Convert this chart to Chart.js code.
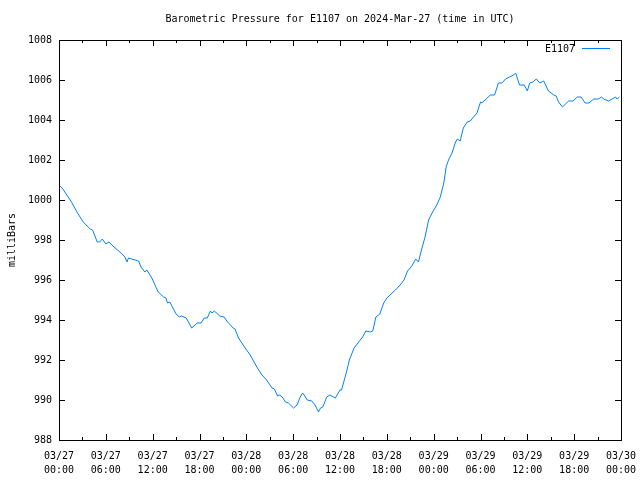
<!DOCTYPE html>
<html>
<head>
<meta charset="utf-8">
<script src="https://cdn.jsdelivr.net/npm/chart.js@4.4.0/dist/chart.umd.min.js"></script>
<style>
  html, body { margin: 0; padding: 0; background: #fff; }
  canvas { display: block; }
</style>
</head>
<body>
<canvas id="chart" width="640" height="480"></canvas>
<script>
// hours since 2024-03-27 00:00 UTC
const hours = [
    0, 0.5, 1.0, 1.6, 2.3, 3.1, 4.0, 4.3, 4.9, 5.2, 5.55, 6.0, 6.4, 7.05, 7.8, 8.45, 8.7, 8.9,
    9.75, 10.2, 10.5, 11.0, 11.25, 11.9, 12.3, 12.7, 13.4, 13.7, 13.9, 14.2, 15.0, 15.4, 15.7,
    16.3, 17.0, 17.7, 18.2, 18.6, 19.0, 19.4, 19.6, 19.9, 20.6, 21.15, 21.6, 22.3, 22.55, 23.0,
    23.85, 24.5, 25.35, 26.0, 26.6, 27.3, 27.6, 28.0, 28.3, 28.7, 29.0, 29.4, 30.05, 30.5, 30.9,
    31.2, 31.5, 31.8, 32.4, 32.8, 33.25, 33.5, 33.8, 34.3, 34.7, 35.4, 36.0, 36.2, 36.8, 37.2,
    37.8, 38.4, 38.9, 39.3, 39.9, 40.2, 40.6, 41.1, 41.6, 42.0, 43.1, 43.7, 44.2, 44.65, 45.2,
    45.7, 46.05, 46.5, 46.9, 47.35, 47.8, 48.4, 48.85, 49.3, 49.6, 49.9, 50.35, 50.8, 51.05,
    51.4, 51.8, 52.3, 52.7, 53.1, 53.55, 54.0, 54.2, 55.25, 55.8, 56.3, 56.75, 57.2, 57.7,
    58.25, 58.5, 59.0, 59.6, 60.0, 60.3, 60.7, 61.15, 61.6, 62.1, 62.7, 63.4, 63.7, 64.0,
    64.5, 64.9, 65.3, 65.85, 66.4, 66.9, 67.4, 67.9, 68.5, 69.1, 69.5, 69.8, 70.4, 70.85,
    71.3, 71.5, 71.8
];

const pressure = [
    1000.75, 1000.55, 1000.25, 999.9, 999.4, 998.9, 998.55, 998.5, 997.9, 997.9, 998.05, 997.8,
    997.9, 997.65, 997.4, 997.15, 996.9, 997.1, 997.0, 996.95, 996.65, 996.4, 996.5, 996.1,
    995.75, 995.4, 995.15, 995.1, 994.85, 994.9, 994.3, 994.15, 994.2, 994.1, 993.6, 993.85,
    993.85, 994.1, 994.1, 994.45, 994.35, 994.45, 994.2, 994.15, 993.9, 993.6, 993.55, 993.1,
    992.6, 992.25, 991.65, 991.25, 991.0, 990.6, 990.55, 990.2, 990.25, 990.1, 989.9, 989.85,
    989.6, 989.75, 990.15, 990.35, 990.2, 990.0, 989.95, 989.75, 989.4, 989.6, 989.65, 990.15,
    990.25, 990.1, 990.5, 990.5, 991.35, 992.0, 992.6, 992.9, 993.15, 993.45, 993.4, 993.45,
    994.15, 994.3, 994.85, 995.1, 995.5, 995.75, 996.0, 996.45, 996.7, 997.05, 996.9, 997.6,
    998.15, 999.0, 999.35, 999.75, 1000.15, 1000.85, 1001.65, 1002.0, 1002.35, 1002.9, 1003.05,
    1002.95, 1003.6, 1003.9, 1003.95, 1004.15, 1004.35, 1004.9, 1004.85, 1005.25, 1005.25,
    1005.85, 1005.85, 1006.05, 1006.15, 1006.25, 1006.35, 1005.75, 1005.75, 1005.45, 1005.85,
    1005.9, 1006.05, 1005.85, 1005.95, 1005.45, 1005.25, 1005.2, 1004.9, 1004.65, 1004.8,
    1004.95, 1004.95, 1005.15, 1005.15, 1004.85, 1004.85, 1005.05, 1005.05, 1005.15, 1005.05,
    1004.95, 1005.05, 1005.15, 1005.05, 1005.15
];

const xTickLabels = [
    ['03/27', '00:00'], ['03/27', '06:00'], ['03/27', '12:00'], ['03/27', '18:00'],
    ['03/28', '00:00'], ['03/28', '06:00'], ['03/28', '12:00'], ['03/28', '18:00'],
    ['03/29', '00:00'], ['03/29', '06:00'], ['03/29', '12:00'], ['03/29', '18:00'],
    ['03/30', '00:00']
];

const seriesName = 'E1107';
const chartTitle = 'Barometric Pressure for E1107 on 2024-Mar-27 (time in UTC)';
const yAxisTitle = 'milliBars';

const FONT = '"DejaVu Sans Mono", "Liberation Mono", monospace';
const LINE_COLOR = 'rgb(0,128,255)';

// gnuplot-like frame: box, inward ticks on all sides, title, y label, legend
const framePlugin = {
    id: 'frame',
    afterDraw(chart) {
        const ctx = chart.ctx;
        const area = chart.chartArea;
        const xs = chart.scales.x;
        const ys = chart.scales.y;

        ctx.save();
        ctx.strokeStyle = '#000';
        ctx.lineWidth = 1;

        // box
        ctx.strokeRect(Math.round(area.left) + 0.5, Math.round(area.top) + 0.5,
            Math.round(area.right - area.left), Math.round(area.bottom - area.top));

        ctx.beginPath();
        // x ticks: major every 6h, minor every 3h
        for (let h = xs.min; h <= xs.max; h += 3) {
            const px = Math.round(xs.getPixelForValue(h)) + 0.5;
            const len = (h % 6 === 0) ? 6 : 3;
            ctx.moveTo(px, area.bottom);
            ctx.lineTo(px, area.bottom - len);
            ctx.moveTo(px, area.top);
            ctx.lineTo(px, area.top + len);
        }
        // y ticks
        ys.ticks.forEach(t => {
            const py = Math.round(ys.getPixelForValue(t.value)) + 0.5;
            ctx.moveTo(area.left, py);
            ctx.lineTo(area.left + 6, py);
            ctx.moveTo(area.right, py);
            ctx.lineTo(area.right - 6, py);
        });
        ctx.stroke();

        // title
        ctx.fillStyle = '#000';
        ctx.font = '10px ' + FONT;
        ctx.textAlign = 'center';
        ctx.textBaseline = 'middle';
        ctx.fillText(chartTitle, (area.left + area.right) / 2, 19);

        // y axis label
        ctx.save();
        ctx.translate(12, (area.top + area.bottom) / 2);
        ctx.rotate(-Math.PI / 2);
        ctx.fillText(yAxisTitle, 0, 0);
        ctx.restore();

        // legend
        ctx.textAlign = 'right';
        ctx.fillText(chart.data.datasets[0].label, 575, 49);
        ctx.strokeStyle = LINE_COLOR;
        ctx.beginPath();
        ctx.moveTo(582, 48.5);
        ctx.lineTo(610, 48.5);
        ctx.stroke();

        ctx.restore();
    }
};

new Chart(document.getElementById('chart'), {
    type: 'line',
    data: {
        datasets: [{
            label: seriesName,
            data: hours.map((h, i) => ({ x: h, y: pressure[i] })),
            borderColor: LINE_COLOR,
            borderWidth: 1,
            pointRadius: 0,
            tension: 0,
            fill: false
        }]
    },
    options: {
        responsive: false,
        devicePixelRatio: 1,
        animation: false,
        layout: { padding: { top: 40, right: 19, left: 0, bottom: 0 } },
        plugins: {
            legend: { display: false },
            title: { display: false },
            tooltip: { enabled: false }
        },
        scales: {
            x: {
                type: 'linear',
                min: 0,
                max: 72,
                grid: { display: false, drawTicks: false },
                border: { display: false },
                afterFit: s => {
                    s.height = 40;
                    s.paddingLeft = 0;
                    s.paddingRight = 0;
                },
                ticks: {
                    stepSize: 6,
                    autoSkip: false,
                    maxRotation: 0,
                    padding: 9,
                    color: '#000',
                    font: { family: FONT, size: 10, lineHeight: 1.4 },
                    callback: (v, i) => xTickLabels[i]
                }
            },
            y: {
                min: 988,
                max: 1008,
                grid: { display: false, drawTicks: false },
                border: { display: false },
                afterFit: s => {
                    s.width = 59;
                    s.paddingTop = 0;
                    s.paddingBottom = 0;
                },
                ticks: {
                    stepSize: 2,
                    padding: 7,
                    color: '#000',
                    font: { family: FONT, size: 10 },
                    callback: v => String(v)
                }
            }
        }
    },
    plugins: [framePlugin]
});
</script>
</body>
</html>
